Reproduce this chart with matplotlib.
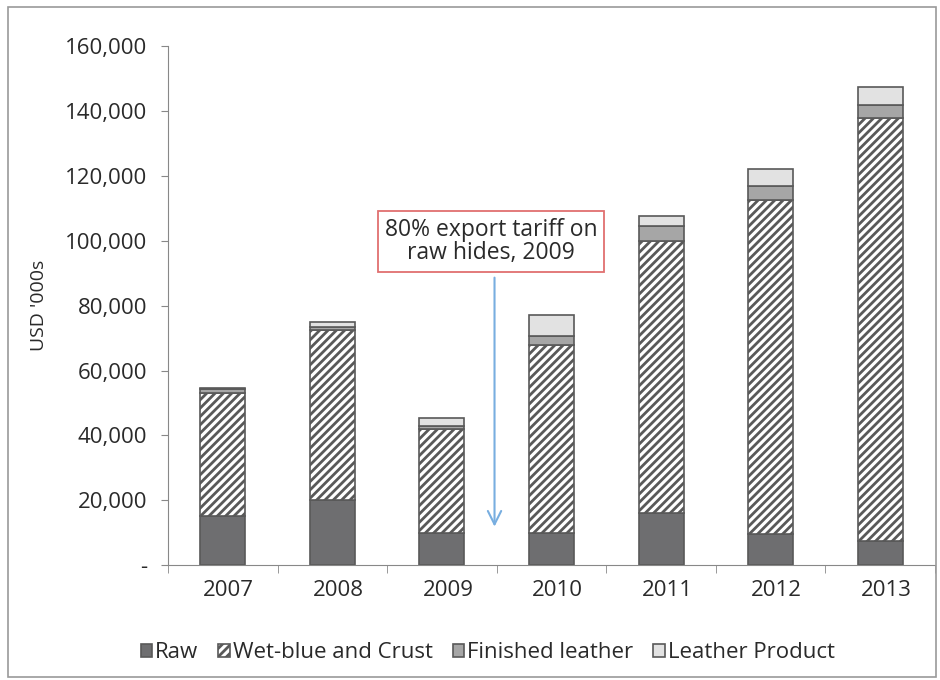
import matplotlib
matplotlib.use("Agg")
import matplotlib.pyplot as plt
from matplotlib.patches import Rectangle
import matplotlib.transforms as mtrans
import numpy as np

years = ["2007", "2008", "2009", "2010", "2011", "2012", "2013"]
raw = [15000, 20000, 10000, 10000, 16000, 9500, 7500]
wet_blue = [38000, 52500, 32000, 58000, 84000, 103000, 130500]
finished = [1300, 1000, 1000, 2500, 4500, 4500, 4000]
product = [300, 1500, 2500, 6500, 3000, 5000, 5500]
yticks = [0, 20000, 40000, 60000, 80000, 100000, 120000, 140000, 160000]
ytick_labels = ["-", "20,000", "40,000", "60,000", "80,000", "100,000", "120,000", "140,000", "160,000"]

plt.rcParams['font.family'] = ['Open Sans', 'DejaVu Sans']
plt.rcParams['hatch.linewidth'] = 2.0
plt.rcParams['hatch.color'] = '#505050'

fig = plt.figure(figsize=(9.4, 6.8), dpi=100)
fig.patches.append(Rectangle((0.008, 0.005), 0.988, 0.985, transform=fig.transFigure,
                             fill=False, edgecolor='#9a9a9a', linewidth=1.2))
ax = fig.add_axes([0.1787, 0.169, 0.816, 0.763])

x = np.arange(len(years))
w = 0.41
edge = '#595959'
raw_a = np.array(raw); wet_a = np.array(wet_blue); fin_a = np.array(finished); prod_a = np.array(product)
b1 = ax.bar(x, raw_a, w, color='#6e6e70', edgecolor=edge, linewidth=1.2, label='Raw')
b2 = ax.bar(x, wet_a, w, bottom=raw_a, color='white', edgecolor=edge, hatch='////', linewidth=1.2,
            label='Wet-blue and Crust')
b3 = ax.bar(x, fin_a, w, bottom=raw_a + wet_a, color='#a6a6a6', edgecolor=edge, linewidth=1.2,
            label='Finished leather')
b4 = ax.bar(x, prod_a, w, bottom=raw_a + wet_a + fin_a, color='#e2e2e2', edgecolor=edge, linewidth=1.2,
            label='Leather Product')

ax.set_xlim(-0.5, 6.5)
ax.set_ylim(0, 160000)
ax.set_yticks(yticks)
ax.set_yticklabels(ytick_labels)
ax.set_xticks(x)
ax.set_xticklabels(years)
ax.set_xticks(np.arange(-0.5, 6.6, 1.0), minor=True)
ax.tick_params(axis='x', which='major', length=0, labelsize=16, pad=11, labelcolor='#2a2a2a')
ax.tick_params(axis='x', which='minor', length=6, color='#888888', direction='out')
ax.tick_params(axis='y', length=5, color='#888888', labelsize=16, pad=10, labelcolor='#2a2a2a')
offset = mtrans.ScaledTranslation(6 / 100, 0, fig.dpi_scale_trans)
for lab in ax.get_xticklabels():
    lab.set_transform(lab.get_transform() + offset)
for s in ['top', 'right']:
    ax.spines[s].set_visible(False)
ax.spines['left'].set_color('#888888')
ax.spines['bottom'].set_color('#888888')
ax.set_ylabel("USD '000s", fontsize=14, color='#2a2a2a', labelpad=12)

ax.annotate('', xy=(2.48, 11000), xytext=(2.48, 89500),
            arrowprops=dict(arrowstyle='->', color='#78aee0', lw=1.5, mutation_scale=24))
ax.text(2.45, 99800, "80% export tariff on\nraw hides, 2009", ha='center', va='center',
        fontsize=16.5, color='#2a2a2a', linespacing=0.95,
        bbox=dict(boxstyle='square,pad=0.3', facecolor='white', edgecolor='#e07070', linewidth=1.3))

leg = fig.legend(handles=[b1, b2, b3, b4], loc='center', bbox_to_anchor=(0.519, 0.04), ncol=4,
                 frameon=False, fontsize=16, handlelength=0.5, handleheight=0.5,
                 handletextpad=0.15, columnspacing=0.9)
for t in leg.get_texts():
    t.set_color('#2a2a2a')

fig.savefig('out.png', dpi=100)
